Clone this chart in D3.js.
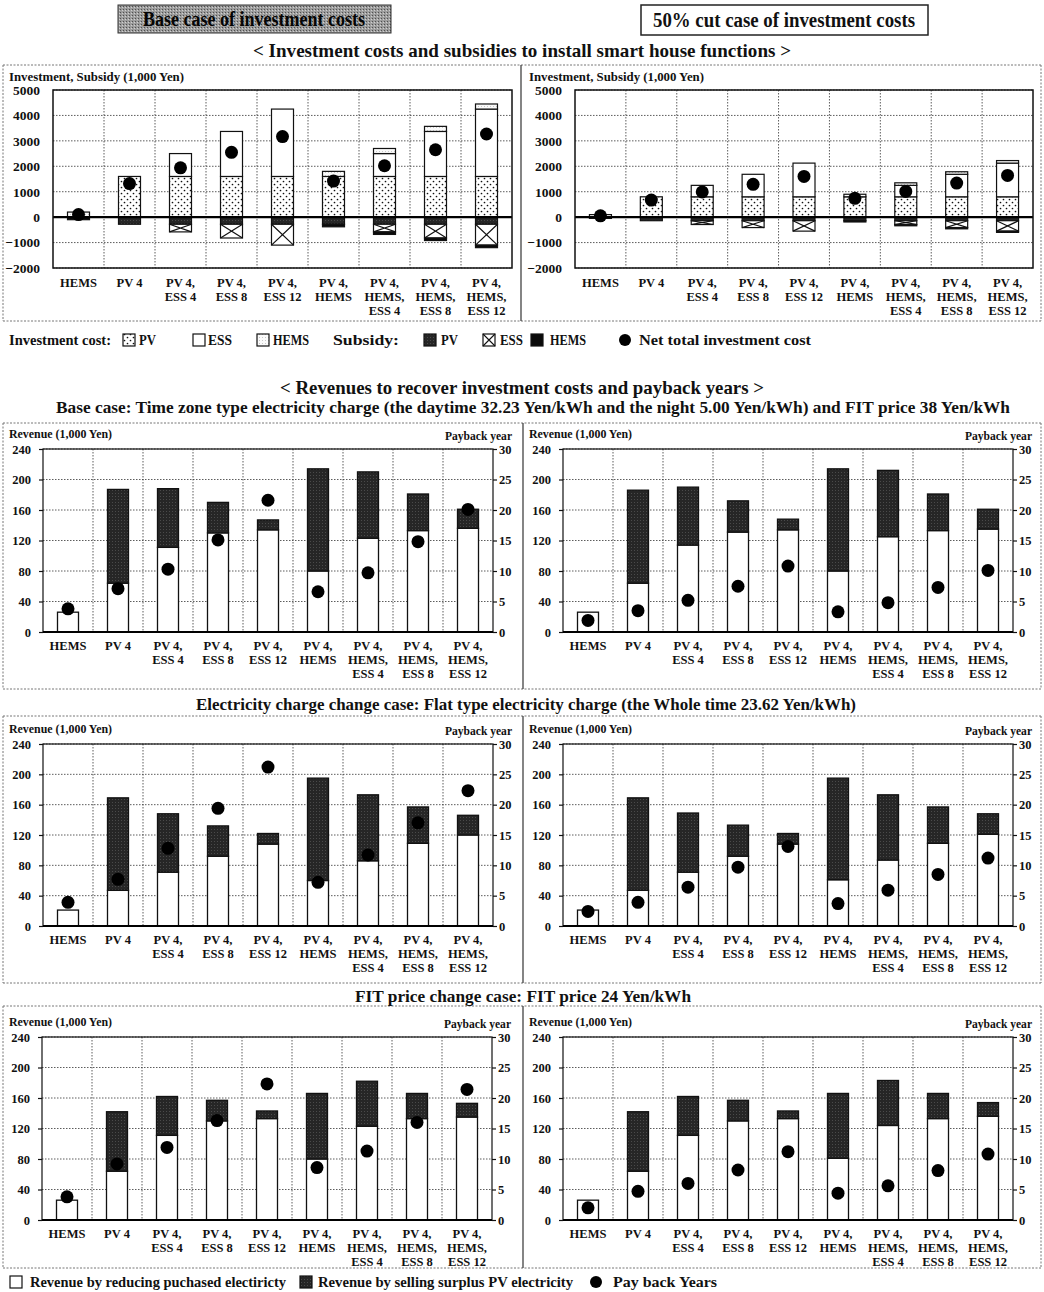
<!DOCTYPE html>
<html><head><meta charset="utf-8">
<script src="https://cdn.jsdelivr.net/npm/d3@7"></script>
<style>
body{margin:0;background:#fff;}
svg text{font-family:"Liberation Serif","Times New Roman",serif;font-weight:bold;fill:#111;}
</style></head><body>
<svg id="chart" width="1044" height="1292"></svg>
<script>
// ---- categories and ticks ----
const categories = ["HEMS","PV 4","PV 4, ESS 4","PV 4, ESS 8","PV 4, ESS 12","PV 4, HEMS","PV 4, HEMS, ESS 4","PV 4, HEMS, ESS 8","PV 4, HEMS, ESS 12"];
const investTicks = [-2000,-1000,0,1000,2000,3000,4000,5000];
const revenueTicks = [0,40,80,120,160,200,240];
const paybackTicks = [0,5,10,15,20,25,30];

// ---- investment cost and subsidy, base case (1,000 Yen) ----
const baseInvPV   = [0,1600,1600,1600,1600,1600,1600,1600,1600];
const baseInvESS  = [0,0,900,1770,2650,0,900,1770,2650];
const baseInvHEMS = [200,0,0,0,0,200,200,200,200];
const baseSubPV   = [0,-280,-280,-280,-280,-280,-280,-280,-280];
const baseSubESS  = [0,0,-300,-540,-820,0,-300,-540,-820];
const baseSubHEMS = [-100,0,0,0,0,-100,-100,-100,-100];
const baseNet     = [100,1320,1940,2550,3170,1420,2020,2650,3270];

// ---- investment cost and subsidy, 50% cut case (1,000 Yen) ----
const cutInvPV   = [0,800,800,800,800,800,800,800,800];
const cutInvESS  = [0,0,450,885,1325,0,450,885,1325];
const cutInvHEMS = [100,0,0,0,0,100,100,100,100];
const cutSubPV   = [0,-140,-140,-140,-140,-140,-140,-140,-140];
const cutSubESS  = [0,0,-150,-270,-410,0,-150,-270,-410];
const cutSubHEMS = [-50,0,0,0,0,-50,-50,-50,-50];
const cutNet     = [50,670,990,1290,1600,740,1010,1340,1640];

// ---- revenues (1,000 Yen) and payback years ----
// base case, base investment
const baseReduceL = [26,64,111,130,134,80,123,133,136];
const baseSellL   = [0,123,77,40,13,134,87,48,25];
const basePayL    = [3.8,7.1,10.3,15.1,21.6,6.6,9.7,14.8,20.1];
// base case, 50% cut investment
const baseReduceR = [26,64,114,131,134,80,125,133,135];
const baseSellR   = [0,122,76,41,14,134,87,48,26];
const basePayR    = [1.9,3.5,5.2,7.5,10.8,3.3,4.8,7.3,10.1];
// flat electricity charge
const flatReduceL = [21,47,71,92,108,60,86,109,120];
const flatSellL   = [0,122,77,40,14,135,87,48,26];
const flatPayL    = [3.9,7.7,12.8,19.4,26.2,7.2,11.7,17.0,22.3];
const flatReduceR = [21,47,71,92,108,61,87,109,121];
const flatSellR   = [0,122,78,41,14,134,86,48,27];
const flatPayR    = [2.4,3.9,6.4,9.7,13.1,3.7,5.9,8.5,11.2];
// FIT price 24 Yen/kWh
const fitReduceL = [26,64,111,130,133,80,123,133,135];
const fitSellL   = [0,78,51,27,10,86,59,33,18];
const fitPayL    = [3.8,9.2,11.9,16.3,22.3,8.6,11.3,16.0,21.4];
const fitReduceR = [26,64,111,130,133,81,124,133,136];
const fitSellR   = [0,78,51,27,10,85,59,33,18];
const fitPayR    = [2.0,4.7,6.0,8.2,11.2,4.4,5.6,8.1,10.8];

const svg = d3.select("#chart");
const defs = svg.append("defs");

// PV investment: white with black stipple
const pvDots = defs.append("pattern").attr("id","pvDots").attr("width",6).attr("height",6).attr("patternUnits","userSpaceOnUse");
pvDots.append("rect").attr("width",6).attr("height",6).attr("fill","#fff");
pvDots.append("circle").attr("cx",1.5).attr("cy",1.5).attr("r",0.85).attr("fill","#111");
pvDots.append("circle").attr("cx",4.5).attr("cy",4.5).attr("r",0.85).attr("fill","#111");
// dark grainy fill
const dark = defs.append("pattern").attr("id","darkFill").attr("width",3).attr("height",3).attr("patternUnits","userSpaceOnUse");
dark.append("rect").attr("width",3).attr("height",3).attr("fill","#262626");
dark.append("rect").attr("x",1).attr("y",1).attr("width",1).attr("height",1).attr("fill","#4a4a4a");
// HEMS investment: very light stipple
const hemsFill = defs.append("pattern").attr("id","hemsFill").attr("width",3).attr("height",3).attr("patternUnits","userSpaceOnUse");
hemsFill.append("rect").attr("width",3).attr("height",3).attr("fill","#fafafa");
hemsFill.append("rect").attr("x",1).attr("y",1).attr("width",1).attr("height",1).attr("fill","#c8c8c8");
// header box gray stipple
const gray = defs.append("pattern").attr("id","grayFill").attr("width",3).attr("height",3).attr("patternUnits","userSpaceOnUse");
gray.append("rect").attr("width",3).attr("height",3).attr("fill","#9c9c9c");
gray.append("rect").attr("x",0).attr("y",0).attr("width",1).attr("height",1).attr("fill","#505050");
gray.append("rect").attr("x",2).attr("y",1).attr("width",1).attr("height",1).attr("fill","#d0d0d0");

function txt(x, y, s, size, anchor, len) {
  const t = svg.append("text").attr("x",x).attr("y",y).attr("font-size",size)
    .attr("text-anchor",anchor || "start").text(s);
  if (len) t.attr("textLength",len).attr("lengthAdjust","spacingAndGlyphs");
  return t;
}
function hline(x1,x2,y,stroke,w,dash){
  svg.append("line").attr("x1",x1).attr("x2",x2).attr("y1",y).attr("y2",y)
    .attr("stroke",stroke).attr("stroke-width",w).attr("stroke-dasharray",dash||null);
}
function vline(x,y1,y2,stroke,w,dash){
  svg.append("line").attr("x1",x).attr("x2",x).attr("y1",y1).attr("y2",y2)
    .attr("stroke",stroke).attr("stroke-width",w).attr("stroke-dasharray",dash||null);
}

// ---- header ----
svg.append("rect").attr("x",118).attr("y",5).attr("width",273).attr("height",28)
  .attr("fill","url(#grayFill)").attr("stroke","#333").attr("stroke-width",1);
txt(254,26,"Base case of investment costs",20,"middle",222).style("fill","#050505");
svg.append("rect").attr("x",641).attr("y",5).attr("width",287).attr("height",30)
  .attr("fill","#fff").attr("stroke","#222").attr("stroke-width",1.5);
txt(784,27,"50% cut case of investment costs",20,"middle",262);
txt(522,57,"< Investment costs and subsidies to install smart house functions >",19,"middle",538);

// ---- panel frames ----
const dot = "2,1.5";
hline(3,1041,65,"#777",1,dot); hline(3,1041,321,"#777",1,dot);
vline(3,65,321,"#777",1,dot); vline(1041,65,321,"#777",1,dot);
vline(521,65,321,"#333",1.2);
[[423,689],[716,983],[1006,1268]].forEach(([a,b])=>{
  hline(3,1041,a,"#777",1,dot); hline(3,1041,b,"#777",1,dot);
  vline(3,a,b,"#777",1,dot); vline(1041,a,b,"#777",1,dot);
  vline(523,a,b,"#333",1.2);
});

function catLabels(g, x, yStart) {
  categories.forEach(c => {
    const parts = c.split(", ");
    parts.forEach((p,k) => {
      g.append("text").attr("x", x(c) + x.bandwidth()/2).attr("y", yStart + k*14)
        .attr("text-anchor","middle").attr("font-size",12.5)
        .text(k < parts.length-1 ? p + "," : p);
    });
  });
}

function gridBox(g, x, y, ticks, top, bottom, x0, x1) {
  ticks.forEach(t => {
    g.append("line").attr("x1",x0).attr("x2",x1).attr("y1",y(t)).attr("y2",y(t))
      .attr("stroke","#333").attr("stroke-width",0.8).attr("stroke-dasharray","1.5,1.5");
  });
  for (let i = 1; i < categories.length; i++) {
    const xx = x0 + i * x.step();
    g.append("line").attr("x1",xx).attr("x2",xx).attr("y1",top).attr("y2",bottom)
      .attr("stroke","#333").attr("stroke-width",0.8).attr("stroke-dasharray","1.5,1.5");
  }
}

// ---- investment panels ----
const invKeys = ["invPV","invESS","invHEMS","subPV","subESS","subHEMS"];
const invFill = {invPV:"url(#pvDots)",invESS:"#fff",invHEMS:"url(#hemsFill)",subPV:"url(#darkFill)",subESS:"#fff",subHEMS:"#0a0a0a"};

function investPanel(x0, x1, titleX, d) {
  const g = svg.append("g");
  const x = d3.scaleBand().domain(categories).range([x0, x1]);
  const y = d3.scaleLinear().domain([-2000,5000]).range([268,90]);
  gridBox(g, x, y, investTicks, 90, 268, x0, x1);
  const rows = categories.map((c,i) => ({cat:c, invPV:d.invPV[i], invESS:d.invESS[i], invHEMS:d.invHEMS[i],
    subPV:d.subPV[i], subESS:d.subESS[i], subHEMS:d.subHEMS[i]}));
  const series = d3.stack().keys(invKeys).offset(d3.stackOffsetDiverging)(rows);
  const bw = 22;
  series.forEach(s => {
    s.forEach(p => {
      const top = y(Math.max(p[0],p[1])), bot = y(Math.min(p[0],p[1]));
      if (bot - top < 0.1) return;
      const cx = x(p.data.cat) + x.bandwidth()/2;
      g.append("rect").attr("x",cx-bw/2).attr("y",top).attr("width",bw).attr("height",bot-top)
        .attr("fill",invFill[s.key]).attr("stroke","#111").attr("stroke-width",1.2);
      if (s.key === "subESS") {
        g.append("path").attr("d",`M${cx-bw/2},${top}L${cx+bw/2},${bot}M${cx+bw/2},${top}L${cx-bw/2},${bot}`)
          .attr("stroke","#111").attr("stroke-width",1.2).attr("fill","none");
      }
    });
  });
  g.append("line").attr("x1",x0).attr("x2",x1).attr("y1",y(0)).attr("y2",y(0)).attr("stroke","#000").attr("stroke-width",2.2);
  g.append("rect").attr("x",x0).attr("y",90).attr("width",x1-x0).attr("height",178)
    .attr("fill","none").attr("stroke","#111").attr("stroke-width",1.5);
  g.selectAll("circle.net").data(categories).join("circle")
    .attr("cx", c => x(c) + x.bandwidth()/2).attr("cy",(c,i) => y(d.net[i])).attr("r",6.5).attr("fill","#000");
  const ax = g.append("g").attr("transform",`translate(${x0},0)`)
    .call(d3.axisLeft(y).tickValues(investTicks).tickSize(0).tickPadding(13).tickFormat(d3.format("d")));
  ax.select(".domain").remove();
  ax.selectAll("text").attr("font-size",13.5).style("fill","#111");
  ax.attr("font-family",null);
  catLabels(g, x, 287);
  txt(titleX, 81, "Investment, Subsidy (1,000 Yen)", 12, "start", 175);
}
investPanel(53, 512, 9, {invPV:baseInvPV,invESS:baseInvESS,invHEMS:baseInvHEMS,subPV:baseSubPV,subESS:baseSubESS,subHEMS:baseSubHEMS,net:baseNet});
investPanel(575, 1033, 529, {invPV:cutInvPV,invESS:cutInvESS,invHEMS:cutInvHEMS,subPV:cutSubPV,subESS:cutSubESS,subHEMS:cutSubHEMS,net:cutNet});

// ---- investment legend ----
const ly = 340;
const lfs = 15;
txt(9, ly+5, "Investment cost:", lfs, "start", 102);
function swatch(x, fill, extra) {
  svg.append("rect").attr("x",x).attr("y",ly-6).attr("width",12).attr("height",12)
    .attr("fill",fill).attr("stroke","#111").attr("stroke-width",1.2);
  if (extra) svg.append("path").attr("d",`M${x},${ly-6}L${x+12},${ly+6}M${x+12},${ly-6}L${x},${ly+6}`)
    .attr("stroke","#111").attr("stroke-width",1.1);
}
swatch(123,"url(#pvDots)"); txt(139,ly+5,"PV",lfs,"start",17);
swatch(193,"#fff"); txt(208,ly+5,"ESS",lfs,"start",24);
swatch(257,"url(#hemsFill)"); txt(273,ly+5,"HEMS",lfs,"start",36);
txt(333,ly+5,"Subsidy:",lfs,"start",66);
swatch(424,"url(#darkFill)"); txt(441,ly+5,"PV",lfs,"start",17);
swatch(483,"#fff",true); txt(500,ly+5,"ESS",lfs,"start",23);
swatch(531,"#0a0a0a"); txt(550,ly+5,"HEMS",lfs,"start",36);
svg.append("circle").attr("cx",625).attr("cy",ly).attr("r",6).attr("fill","#000");
txt(639,ly+5,"Net total investment cost",lfs,"start",172);

// ---- revenue section titles ----
txt(522,394,"< Revenues to recover investment costs and payback years >",19,"middle",484);
txt(533,413,"Base case: Time zone type electricity charge (the daytime 32.23 Yen/kWh and the night 5.00 Yen/kWh) and FIT price 38 Yen/kWh",16.5,"middle",954);
txt(526,710,"Electricity charge change case: Flat type electricity charge (the Whole time 23.62 Yen/kWh)",16.5,"middle",660);
txt(523,1002,"FIT price change case: FIT price 24 Yen/kWh",16.5,"middle",336);

// ---- revenue panels ----
function revenuePanel(x0, x1, yTop, yBot, titleX, titleY, reduce, sell, pay) {
  const g = svg.append("g");
  const x = d3.scaleBand().domain(categories).range([x0, x1]);
  const y = d3.scaleLinear().domain([0,240]).range([yBot, yTop]);
  const yp = d3.scaleLinear().domain([0,30]).range([yBot, yTop]);
  gridBox(g, x, y, revenueTicks, yTop, yBot, x0, x1);
  const rows = categories.map((c,i) => ({cat:c, reduce:reduce[i], sell:sell[i]}));
  const series = d3.stack().keys(["reduce","sell"])(rows);
  const bw = 21;
  series.forEach(s => {
    s.forEach(p => {
      if (p[1] - p[0] <= 0) return;
      g.append("rect").attr("x", x(p.data.cat) + x.bandwidth()/2 - bw/2).attr("y", y(p[1]))
        .attr("width", bw).attr("height", y(p[0]) - y(p[1]))
        .attr("fill", s.key === "reduce" ? "#fff" : "url(#darkFill)")
        .attr("stroke","#111").attr("stroke-width",1.3);
    });
  });
  g.append("rect").attr("x",x0).attr("y",yTop).attr("width",x1-x0).attr("height",yBot-yTop)
    .attr("fill","none").attr("stroke","#111").attr("stroke-width",1.2);
  g.append("line").attr("x1",x0).attr("x2",x1).attr("y1",yBot).attr("y2",yBot).attr("stroke","#000").attr("stroke-width",1.8);
  g.selectAll("circle.pay").data(categories).join("circle")
    .attr("cx", c => x(c) + x.bandwidth()/2).attr("cy",(c,i) => yp(pay[i])).attr("r",6.5).attr("fill","#000");
  const axL = g.append("g").attr("transform",`translate(${x0},0)`)
    .call(d3.axisLeft(y).tickValues(revenueTicks).tickSize(4).tickPadding(8));
  const axR = g.append("g").attr("transform",`translate(${x1},0)`)
    .call(d3.axisRight(yp).tickValues(paybackTicks).tickSize(4).tickPadding(2));
  [axL, axR].forEach(a => {
    a.attr("font-family",null);
    a.select(".domain").remove();
    a.selectAll("line").attr("stroke","#111").attr("stroke-width",1.2);
    a.selectAll("text").attr("font-size",12.5).style("fill","#111");
  });
  catLabels(g, x, yBot + 18);
  txt(titleX, titleY, "Revenue (1,000 Yen)", 12, "start", 103);
  txt(x1 + 19, titleY + 2, "Payback year", 12, "end", 67);
}
revenuePanel(43, 493, 449, 632, 9, 438, baseReduceL, baseSellL, basePayL);
revenuePanel(563, 1013, 449, 632, 529, 438, baseReduceR, baseSellR, basePayR);
revenuePanel(43, 493, 744, 926, 9, 733, flatReduceL, flatSellL, flatPayL);
revenuePanel(563, 1013, 744, 926, 529, 733, flatReduceR, flatSellR, flatPayR);
revenuePanel(42, 492, 1037, 1220, 9, 1026, fitReduceL, fitSellL, fitPayL);
revenuePanel(563, 1013, 1037, 1220, 529, 1026, fitReduceR, fitSellR, fitPayR);

// ---- revenue legend ----
const by = 1282;
svg.append("rect").attr("x",10).attr("y",by-6).attr("width",12).attr("height",12).attr("fill","#fff").attr("stroke","#111").attr("stroke-width",1.2);
txt(30,by+5,"Revenue by reducing puchased electiricty",lfs,"start",256);
svg.append("rect").attr("x",300).attr("y",by-6).attr("width",12).attr("height",12).attr("fill","url(#darkFill)").attr("stroke","#111").attr("stroke-width",1.2);
txt(318,by+5,"Revenue by selling surplus PV electricity",lfs,"start",255);
svg.append("circle").attr("cx",596).attr("cy",by).attr("r",6).attr("fill","#000");
txt(613,by+5,"Pay back Years",lfs,"start",104);
</script>
</body></html>
